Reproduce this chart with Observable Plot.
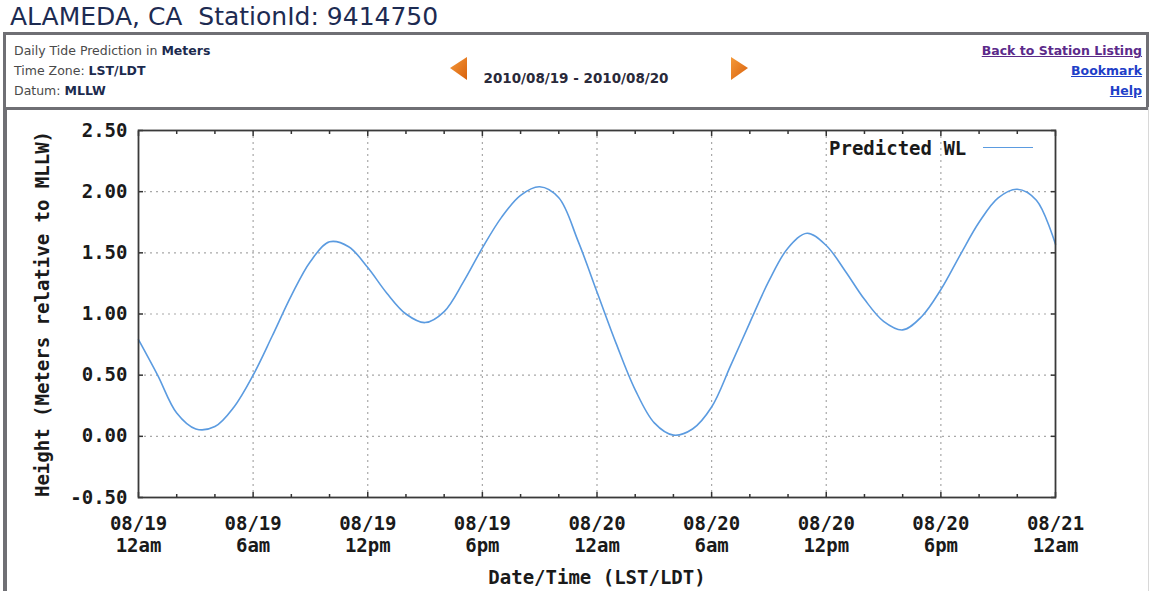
<!DOCTYPE html>
<html>
<head>
<meta charset="utf-8">
<script src="https://cdn.jsdelivr.net/npm/d3@7"></script>
<script src="https://cdn.jsdelivr.net/npm/@observablehq/plot@0.6"></script>
<style>
  html, body { margin: 0; padding: 0; background: #fff; }
  #page { position: relative; width: 1150px; height: 591px; overflow: hidden; background: #fff; }
  #title { position: absolute; left: 10px; top: 0px; font-family: "DejaVu Sans", sans-serif; font-size: 25px; line-height: 34px; color: #1d2b52; white-space: pre; }
  #hdr { position: absolute; left: 3px; top: 32px; width: 1146px; height: 78px; box-sizing: border-box; border: 3px solid #6f6f74; background: #fff; }
  .hl { position: absolute; left: 8px; font-family: "DejaVu Sans", sans-serif; font-size: 12.5px; color: #4a4a4a; line-height: 16px; white-space: pre; }
  .hl b { color: #1c2a4e; }
  .lnk { position: absolute; right: 4px; font-family: "DejaVu Sans", sans-serif; font-size: 12.5px; font-weight: bold; text-decoration: underline; line-height: 16px; white-space: pre; }
  #range { position: absolute; left: 0; width: 1140px; text-align: center; top: 35px; font-family: "DejaVu Sans", sans-serif; font-weight: bold; font-size: 13.5px; color: #2a2a3a; line-height: 16px; }
  #chartbox { position: absolute; left: 3px; top: 107px; width: 1146px; height: 490px; box-sizing: border-box; border-left: 4px solid #6f6f74; border-right: 1px solid #d8d8d8; }
  #chart { position: absolute; left: 0; top: 110px; }
  #legend { position: absolute; left: 829px; top: 137px; font-family: "DejaVu Sans Mono", monospace; font-weight: bold; font-size: 19px; line-height: 22px; color: #1a1a1a; white-space: pre; }
  #legline { position: absolute; left: 983px; top: 147px; width: 50px; height: 0; border-top: 1.6px solid #5b9be0; }
</style>
</head>
<body>
<div id="page">
  <div id="title">ALAMEDA, CA  StationId: 9414750</div>
  <div id="hdr">
    <div class="hl" style="top:8px">Daily Tide Prediction in <b>Meters</b></div>
    <div class="hl" style="top:28px">Time Zone: <b>LST/LDT</b></div>
    <div class="hl" style="top:48px">Datum: <b>MLLW</b></div>
    <svg style="position:absolute;left:441px;top:21px" width="22" height="26">
      <defs><linearGradient id="og" x1="0" y1="0" x2="1" y2="1"><stop offset="0" stop-color="#f59a3a"/><stop offset="1" stop-color="#d8600c"/></linearGradient></defs>
      <polygon points="3,12 20,1 20,24" fill="url(#og)"/>
    </svg>
    <div id="range">2010/08/19 - 2010/08/20</div>
    <svg style="position:absolute;left:722px;top:21px" width="22" height="26">
      <polygon points="20,12 3,1 3,24" fill="url(#og)"/>
    </svg>
    <div class="lnk" style="top:8px;color:#5b2a8a">Back to Station Listing</div>
    <div class="lnk" style="top:28px;color:#1f3fc8">Bookmark</div>
    <div class="lnk" style="top:48px;color:#1f3fc8">Help</div>
  </div>
  <div id="chartbox"></div>
  <div id="chart"></div>
  <div id="legend">Predicted WL</div>
  <div id="legline"></div>
</div>
<script>
// Hours since 2010-08-19 00:00 (LST/LDT)
const hours = [0,1,2,3,4,5,6,7,8,9,10,11,12,13,14,15,16,17,18,19,20,21,22,23,24,
               25,26,27,28,29,30,31,32,33,34,35,36,37,38,39,40,41,42,43,44,45,46,47,48];
// Predicted water level (m, relative to MLLW)
const heights = [0.79,0.50,0.19,0.06,0.08,0.24,0.50,0.82,1.15,1.43,1.59,1.55,1.38,1.17,1.00,0.93,1.02,1.26,1.54,1.79,1.97,2.04,1.95,1.60,1.18,
                 0.76,0.38,0.11,0.01,0.06,0.24,0.58,0.93,1.27,1.54,1.66,1.56,1.35,1.12,0.94,0.87,0.98,1.20,1.48,1.75,1.95,2.02,1.93,1.57];
const xMajorTicks = [0,6,12,18,24,30,36,42,48];
const xMinorTicks = [2,4,8,10,14,16,20,22,26,28,32,34,38,40,44,46];
const xTickDates = ["08/19","08/19","08/19","08/19","08/20","08/20","08/20","08/20","08/21"];
const xTickTimes = ["12am","6am","12pm","6pm","12am","6am","12pm","6pm","12am"];
const yTicks = [-0.5,0,0.5,1,1.5,2,2.5];
const xGrid = [6,12,18,24,30,36,42];
const yGrid = [0,0.5,1,1.5,2];

const data = hours.map((h, i) => ({h, v: heights[i]}));

const gridStyle = {stroke: "#a8a8a8", strokeOpacity: 1, strokeDasharray: "2,4", strokeWidth: 1.2};
const tickStyle = {stroke: "#333", strokeWidth: 1.5, text: null, tickPadding: 0};

const chart = Plot.plot({
  width: 1150,
  height: 481,
  marginLeft: 138,
  marginRight: 95,
  marginTop: 20,
  marginBottom: 94,
  style: {fontFamily: "'DejaVu Sans Mono', monospace", fontSize: "19px", fontWeight: "bold", color: "#1a1a1a", background: "transparent", overflow: "visible"},
  x: {domain: [0, 48]},
  y: {domain: [-0.5, 2.5]},
  marks: [
    Plot.gridX(xGrid, gridStyle),
    Plot.gridY(yGrid, gridStyle),
    Plot.line(data, {x: "h", y: "v", stroke: "#5b9be0", strokeWidth: 1.6, curve: "catmull-rom"}),
    Plot.axisX(xMinorTicks, {anchor: "bottom", tickSize: -3, ...tickStyle, label: null}),
    Plot.axisX(xMinorTicks, {anchor: "top", tickSize: -3, ...tickStyle, label: null}),
    Plot.axisX(xMajorTicks, {anchor: "bottom", tickSize: -5, ...tickStyle, label: null}),
    Plot.axisX(xMajorTicks, {anchor: "top", tickSize: -5, ...tickStyle, label: null}),
    Plot.axisY(yTicks, {anchor: "left", tickSize: -5, ...tickStyle, label: null}),
    Plot.axisY(yTicks, {anchor: "right", tickSize: -5, ...tickStyle, label: null}),
    Plot.axisX(xMajorTicks, {
      anchor: "bottom", tickSize: 0, tickPadding: 16, lineHeight: 1.2,
      tickFormat: (d) => xTickDates[xMajorTicks.indexOf(d)] + "\n" + xTickTimes[xMajorTicks.indexOf(d)],
      label: "Date/Time (LST/LDT)", labelAnchor: "center", labelArrow: "none", labelOffset: 86
    }),
    Plot.axisY(yTicks, {
      anchor: "left", tickSize: 0, tickPadding: 11,
      tickFormat: (d) => d.toFixed(2),
      label: "Height (Meters relative to MLLW)", labelAnchor: "center", labelArrow: "none", labelOffset: 103
    }),
    Plot.frame({stroke: "#3a3a3a", strokeWidth: 1.8})
  ]
});
document.getElementById("chart").appendChild(chart);
</script>
</body>
</html>
